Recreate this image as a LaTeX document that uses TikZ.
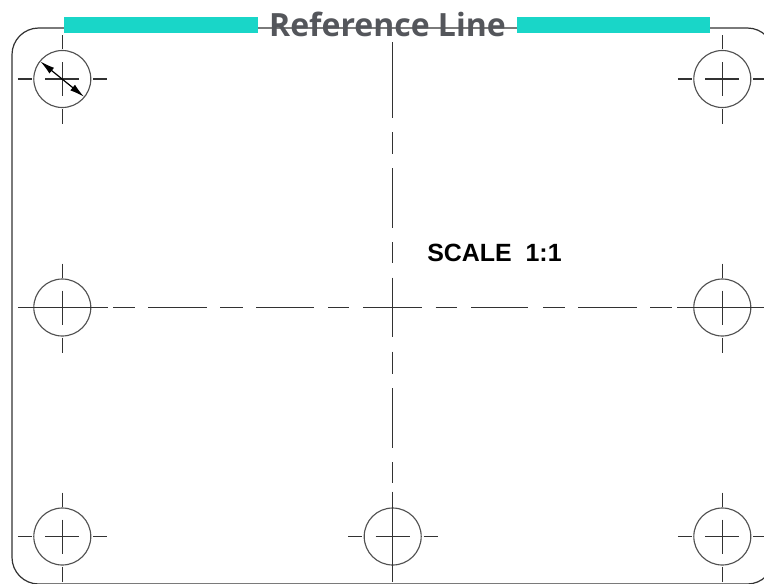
\documentclass[tikz,border=0pt]{standalone}
\usepackage{fontspec}
\setmainfont{Open Sans}
\newfontfamily\scalefont{Liberation Sans}
\usetikzlibrary{arrows.meta}
\definecolor{refTeal}{RGB}{25, 214, 200}
\definecolor{refGray}{RGB}{84, 86, 91}
\definecolor{lnDark}{RGB}{50, 50, 50}
\tikzset{
    outline/.style={
        draw=lnDark,
        line width=0.9pt
    },
    centerline/.style={
        draw=lnDark,
        line width=0.9pt
    },
    hole/.style={
        circle,
        draw=lnDark!85,
        line width=0.85pt,
        inner sep=0pt,
        minimum size=42.75pt
    },
    bar/.style={
        fill=refTeal,
        draw=none
    },
    title/.style={
        font=\bfseries\fontsize{24}{24}\selectfont,
        text=refGray,
        inner sep=0pt
    },
    scalelabel/.style={
        font=\scalefont\bfseries\fontsize{18.7}{18.7}\selectfont,
        text=black,
        inner sep=0pt
    },
    dimline/.style={
        {Latex[length=11pt,width=5.5pt]}-{Latex[length=11pt,width=5.5pt]},
        draw=black,
        line width=0.9pt
    }
}
\begin{document}
\begin{tikzpicture}[x=0.75pt,y=-0.75pt]
  \path[use as bounding box,clip] (0,0) rectangle (764,583);

  % plate outline, runs off the page on two sides
  \draw[outline,rounded corners=20pt] (12,28) rectangle (774,584);

  % holes and their crosses
  \foreach \hx/\hy/\hname in {62.3/79/a,722.3/79/b,62.3/307.5/c,722.3/307.5/d,62.3/536.5/e,392.7/536.5/f,722.3/536.5/g}{
    \node[hole] (hole\hname) at (\hx,\hy) {};
    \draw[centerline] (\hx-17,\hy) -- (\hx+17,\hy);
    \draw[centerline] (\hx,\hy-17) -- (\hx,\hy+17);
    \draw[centerline] (\hx-44.5,\hy) -- (\hx-30.5,\hy);
    \draw[centerline] (\hx+31,\hy) -- (\hx+45,\hy);
    \draw[centerline] (\hx,\hy-44) -- (\hx,\hy-30);
    \draw[centerline] (\hx,\hy+30) -- (\hx,\hy+45);
  }

  % horizontal center line
  \foreach \xa/\xb in {18/107.5,113/134.5,148/207,220/242.5,256/313.5,328/349,363/421.7,435.7/457,471/528,543/565,578/636.5,650/671.7,677.3/764}{
    \draw[centerline] (\xa,307.5) -- (\xb,307.5);
  }

  % vertical center line
  \foreach \ya/\yb in {42.3/118.3,132.3/154.3,168.3/228.3,242.3/263.3,277.7/337.3,351.7/373.5,388.3/447.7,462.3/483,491.7/581.7}{
    \draw[centerline] (392.7,\ya) -- (392.7,\yb);
  }

  % diameter arrow
  \coordinate (dimA) at (40.3,61.4);
  \coordinate (dimB) at (84.1,96.8);
  \draw[dimline] (dimA) -- (dimB);

  \fill[bar] (64,17) rectangle (257.5,33);
  \fill[bar] (516.7,17) rectangle (709.7,33);

  \node[title,anchor=base] (reftitle) at (387.5,36.5) {Reference Line};
  \node[scalelabel,anchor=base west] (scalenote) at (427,261.5) {SCALE\ \ 1:1};
\end{tikzpicture}
\end{document}
